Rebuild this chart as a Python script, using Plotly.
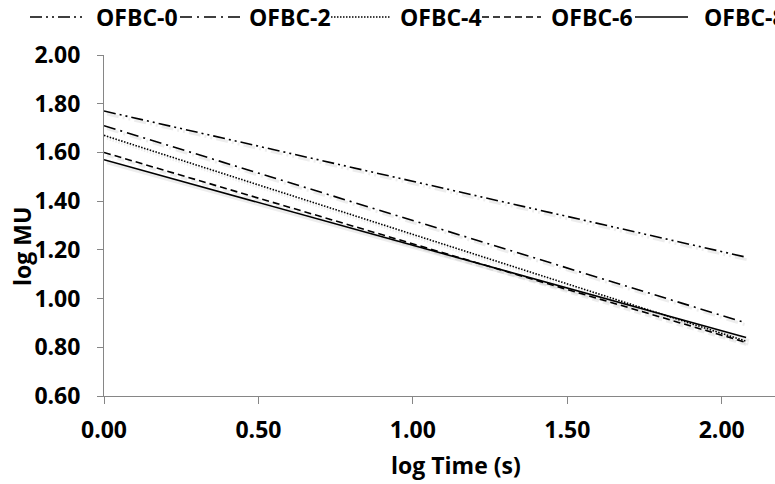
import plotly.graph_objects as go

# ---- data ----
series_names = ["OFBC-0", "OFBC-2", "OFBC-4", "OFBC-6", "OFBC-8"]
log_time = [0.0, 2.079]
ofbc0 = [1.77, 1.17]
ofbc2 = [1.71, 0.90]
ofbc4 = [1.67, 0.825]
ofbc6 = [1.60, 0.82]
ofbc8 = [1.57, 0.84]
series_values = [ofbc0, ofbc2, ofbc4, ofbc6, ofbc8]

x_ticks = [0.0, 0.5, 1.0, 1.5, 2.0]
x_tick_labels = ["0.00", "0.50", "1.00", "1.50", "2.00"]
y_ticks = [0.6, 0.8, 1.0, 1.2, 1.4, 1.6, 1.8, 2.0]
y_tick_labels = ["0.60", "0.80", "1.00", "1.20", "1.40", "1.60", "1.80", "2.00"]

# ---- styles ----
dashes = ["12px,4px,2px,4px,2px,4px", "12px,5px,2px,5px", "1.5px,1.5px", "7px,4px", "solid"]
FONT = "Open Sans"
FS = 23
AX = "#868686"

W, H = 775, 484
L, R, T, B = 104, 0, 55, 88
PW, PH = W - L - R, H - T - B
X_MAX = 0.0 + PW / 308.85
Y_MIN, Y_MAX = 0.6, 2.0


def px_x(p):
    return (p - L) / PW


def px_y(p):
    return (H - B - p) / PH


fig = go.Figure()

# soft shadows (same data, drawn on a slightly offset twin axis pair)
dx = 3 / 308.85
dy = 3 * (Y_MAX - Y_MIN) / PH
for name, vals, d in zip(series_names, series_values, dashes):
    fig.add_trace(go.Scatter(x=log_time, y=vals, mode="lines", xaxis="x2", yaxis="y2",
                             line=dict(color="rgba(0,0,0,0.07)", width=3, dash=d),
                             showlegend=False, hoverinfo="skip"))

for name, vals, d in zip(series_names, series_values, dashes):
    fig.add_trace(go.Scatter(x=log_time, y=vals, mode="lines", name=name,
                             line=dict(color="black", width=1.6, dash=d),
                             showlegend=False))

axis_font = dict(family=FONT, size=FS, color="black", weight="bold")

fig.update_layout(
    width=W, height=H,
    margin=dict(l=L, r=R, t=T, b=B, pad=0),
    paper_bgcolor="white", plot_bgcolor="white",
    showlegend=False,
    xaxis=dict(range=[0, X_MAX], tickvals=x_ticks, ticktext=x_tick_labels,
               showgrid=False, zeroline=False, showline=True, linecolor=AX, linewidth=1,
               ticks="outside", ticklen=7, tickcolor=AX, tickwidth=1,
               tickfont=axis_font, ticklabelstandoff=6),
    yaxis=dict(range=[Y_MIN, Y_MAX], tickvals=y_ticks, ticktext=y_tick_labels,
               showgrid=False, zeroline=False, showline=True, linecolor=AX, linewidth=1,
               ticks="outside", ticklen=6, tickcolor=AX, tickwidth=1,
               tickfont=axis_font, ticklabelstandoff=12),
    xaxis2=dict(range=[0 - dx, X_MAX - dx], overlaying="x", visible=False, anchor="y2"),
    yaxis2=dict(range=[Y_MIN + dy, Y_MAX + dy], overlaying="y", visible=False, anchor="x2"),
)

# axis titles
fig.add_annotation(text="log Time (s)", xref="paper", yref="paper",
                   x=px_x(456), y=px_y(465), showarrow=False,
                   font=axis_font, xanchor="center", yanchor="middle")
fig.add_annotation(text="log MU", xref="paper", yref="paper",
                   x=px_x(22), y=px_y(247), showarrow=False, textangle=-90,
                   font=axis_font, xanchor="center", yanchor="middle")

# legend (top, running off the right edge like the reference)
leg_line_x = [(30, 83), (180, 240), (331, 390), (482, 541), (635, 688)]
leg_text_x = [94, 247, 398, 549, 702]
leg_y = 17
for name, d, (x0, x1), tx in zip(series_names, dashes, leg_line_x, leg_text_x):
    fig.add_shape(type="line", xref="paper", yref="paper",
                  x0=px_x(x0), x1=px_x(x1), y0=px_y(leg_y), y1=px_y(leg_y),
                  line=dict(color="black", width=1.6, dash=d))
    fig.add_annotation(text=name, xref="paper", yref="paper",
                       x=px_x(tx), y=px_y(leg_y), showarrow=False,
                       font=axis_font, xanchor="left", yanchor="middle")

fig.write_html("out.html")
